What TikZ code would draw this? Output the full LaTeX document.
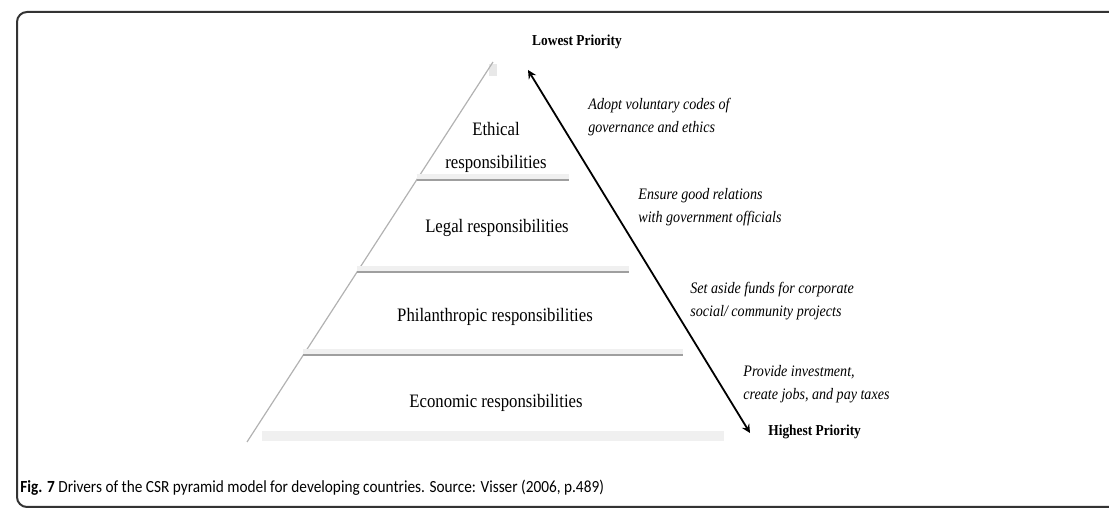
\documentclass[tikz,border=0pt]{standalone}
\usepackage{fontspec}
\setmainfont{Liberation Serif}[FakeStretch=0.88]
\newfontfamily\capfont{Carlito}[FakeStretch=0.9]
\usetikzlibrary{arrows, positioning, calc}

\tikzset{
  layer/.style={font=\fontsize{9.5}{16.5}\selectfont, align=center},
  driver/.style={font=\fontsize{8}{11.5}\selectfont\itshape, align=left, anchor=west, inner sep=0pt},
  prio/.style={font=\fontsize{7.6}{9}\selectfont\bfseries, inner sep=0pt},
  band/.style={gray!12, line width=3pt},
  bandline/.style={gray!75, line width=0.8pt},
}

\begin{document}
\begin{tikzpicture}[x=0.5pt, y=-0.5pt]
	\useasboundingbox (0,0) rectangle (1109,512);
	% frame
	\draw[black!80, line width=1pt, rounded corners=5pt] (17,507) rectangle (1130,12);
	% pyramid
	\coordinate (apex) at (493,62);
	\coordinate (bl) at (247,442);
	\coordinate (br) at (739,442);
	\fill[gray!18] ($(apex)+(-4,2)$) rectangle ($(apex)+(4,14)$);
	\draw[band, line width=5pt] ($(bl)!0.03!(br)+(0,-6)$) -- ($(bl)!0.97!(br)+(0,-6)$);
	\draw[gray!60, line width=0.6pt] (apex) -- (bl);
	\foreach \t in {0.3105,0.5526,0.771}{
		\draw[band] ($(apex)!\t!(bl)+(0,-3)$) -- ($(apex)!\t!(br)+(0,-3)$);
		\draw[bandline] ($(apex)!\t!(bl)$) -- ($(apex)!\t!(br)$);
	}
	% layers
	\node[layer] (eth) at (496,147) {Ethical\\responsibilities};
	\node[layer] (leg) at (497,228) {Legal responsibilities};
	\node[layer] (phil) at (495,317) {Philanthropic responsibilities};
	\node[layer] (eco) at (496,403) {Economic responsibilities};
	% priority arrow
	\node[prio] (low) at (577,42) {Lowest Priority};
	\node[prio, anchor=west] (high) at (768,432) {Highest Priority};
	\coordinate (top) at (528,70);
	\coordinate (bot) at (750,433);
	\draw[stealth-stealth, line width=0.9pt] (top) -- (bot);
	% drivers
	\node[driver] (d1) at (588,117) {Adopt voluntary codes of\\governance and ethics};
	\node[driver] (d2) at (638,207) {Ensure good relations\\with government officials};
	\node[driver] (d3) at (690,301) {Set aside funds for corporate\\social/ community projects};
	\node[driver] (d4) at (743,384) {Provide investment,\\create jobs, and pay taxes};
	% caption
	\node[anchor=west, inner sep=0pt, font=\capfont\fontsize{8.5}{10}\selectfont] (cap) at (20,488)
		{\textbf{Fig. 7} Drivers of the CSR pyramid model for developing countries. Source: Visser (2006, p.489)};
\end{tikzpicture}
\end{document}
